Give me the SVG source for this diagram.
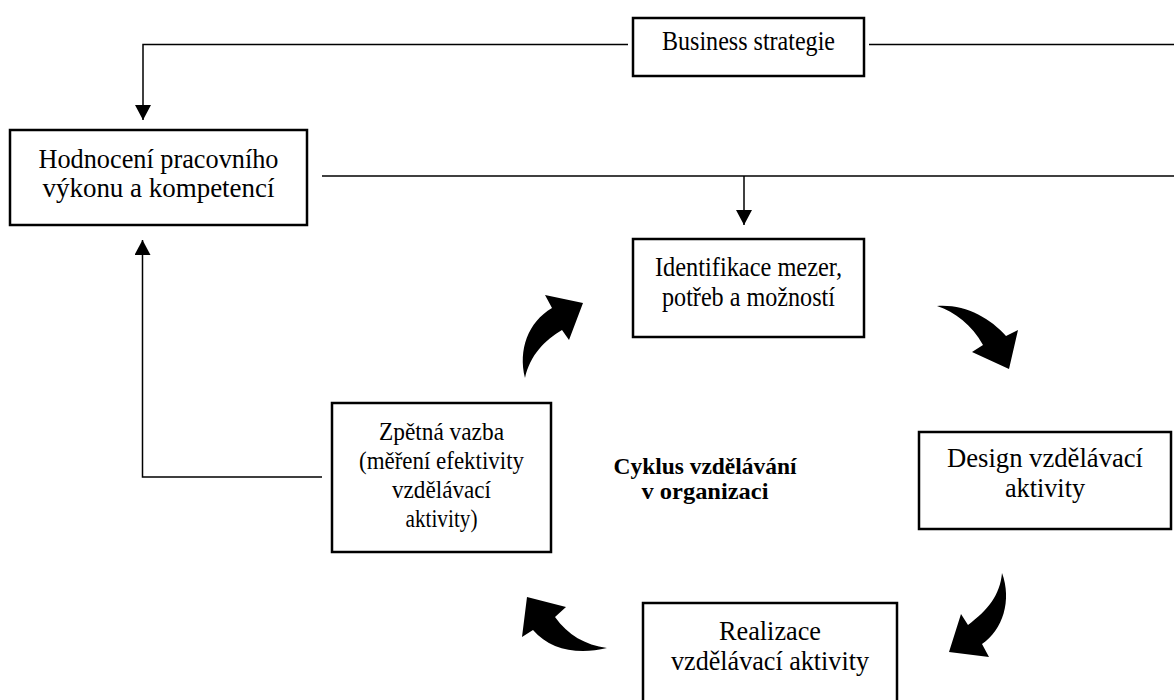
<svg xmlns="http://www.w3.org/2000/svg" width="1174" height="700" viewBox="0 0 1174 700">
<defs>
<style>
.box{fill:#fff;stroke:#000;stroke-width:2.5}
.ln{fill:none;stroke:#000;stroke-width:1.5}
.t{font-family:"Liberation Serif","Times New Roman",serif;fill:#000;text-anchor:middle}
.b{font-weight:bold}
.ca{fill:#000;stroke:none}
</style>
<marker id="ah" viewBox="0 0 15 16" refX="15" refY="8" markerWidth="15" markerHeight="16" markerUnits="userSpaceOnUse" orient="auto">
<path d="M0,0 L15,8 L0,16 Z" fill="#000"/>
</marker>
</defs>
<rect width="1174" height="700" fill="#fff"/>
<g id="connectors">
<path class="ln" d="M628,44.5 H143 V120" marker-end="url(#ah)"/>
<path class="ln" d="M869,44.5 H1174"/>
<path class="ln" d="M322,176 H1174"/>
<path class="ln" d="M744,176 V225" marker-end="url(#ah)"/>
<path class="ln" d="M322,477 H142.5 V240" marker-end="url(#ah)"/>
<path class="ca" d="M937,306 C965,304 990,318 1006,336 L1018,330 L1009,369 L972,352 L983,345 C972,325 955,312 937,306 Z"/>
<path class="ca" d="M1002,573 C1012,600 1003,630 982,644 L989,657 L949,652 L961,614 L968,625 C988,610 1000,595 1002,573 Z"/>
<path class="ca" d="M607,648 C585,645 568,635 555,617 L566,607 L527,597 L522,637 L533,630 C550,650 578,655 607,648 Z"/>
<path class="ca" d="M525,378 C518,350 528,322 552,308 L545,295 L583,303 L569,340 L562,330 C545,340 530,355 525,378 Z"/>
</g>
<g id="business">
<rect class="box" x="633" y="18" width="231" height="58"/>
<text class="t" x="748.5" y="50" font-size="27" textLength="173" lengthAdjust="spacingAndGlyphs">Business strategie</text>
</g>
<g id="hodnoceni">
<rect class="box" x="10" y="130" width="297" height="95" stroke-width="3"/>
<text class="t" x="158.5" y="168" font-size="28" textLength="240" lengthAdjust="spacingAndGlyphs">Hodnocení pracovního</text>
<text class="t" x="158.5" y="197" font-size="28" textLength="232" lengthAdjust="spacingAndGlyphs">výkonu a kompetencí</text>
</g>
<g id="identifikace">
<rect class="box" x="633" y="239" width="231" height="98"/>
<text class="t" x="748.5" y="276" font-size="27" textLength="187" lengthAdjust="spacingAndGlyphs">Identifikace mezer,</text>
<text class="t" x="748.5" y="306" font-size="27" textLength="173" lengthAdjust="spacingAndGlyphs">potřeb a možností</text>
</g>
<g id="design">
<rect class="box" x="919" y="432" width="252" height="97"/>
<text class="t" x="1045" y="467" font-size="27" textLength="196" lengthAdjust="spacingAndGlyphs">Design vzdělávací</text>
<text class="t" x="1045" y="497" font-size="27" textLength="80" lengthAdjust="spacingAndGlyphs">aktivity</text>
</g>
<g id="realizace">
<rect class="box" x="643" y="603" width="254" height="110"/>
<text class="t" x="770" y="640" font-size="27" textLength="102" lengthAdjust="spacingAndGlyphs">Realizace</text>
<text class="t" x="770" y="670" font-size="27" textLength="198" lengthAdjust="spacingAndGlyphs">vzdělávací aktivity</text>
</g>
<g id="zpetna">
<rect class="box" x="332" y="403" width="219" height="149"/>
<text class="t" x="441.5" y="440" font-size="25" textLength="125" lengthAdjust="spacingAndGlyphs">Zpětná vazba</text>
<text class="t" x="441.5" y="469" font-size="25" textLength="165" lengthAdjust="spacingAndGlyphs">(měření efektivity</text>
<text class="t" x="441.5" y="498" font-size="25" textLength="99" lengthAdjust="spacingAndGlyphs">vzdělávací</text>
<text class="t" x="441.5" y="527" font-size="25" textLength="72" lengthAdjust="spacingAndGlyphs">aktivity)</text>
</g>
<g id="cyklus">
<text class="t b" x="705" y="474" font-size="23" textLength="183" lengthAdjust="spacingAndGlyphs">Cyklus vzdělávání</text>
<text class="t b" x="705" y="499" font-size="23" textLength="127" lengthAdjust="spacingAndGlyphs">v organizaci</text>
</g>
</svg>
